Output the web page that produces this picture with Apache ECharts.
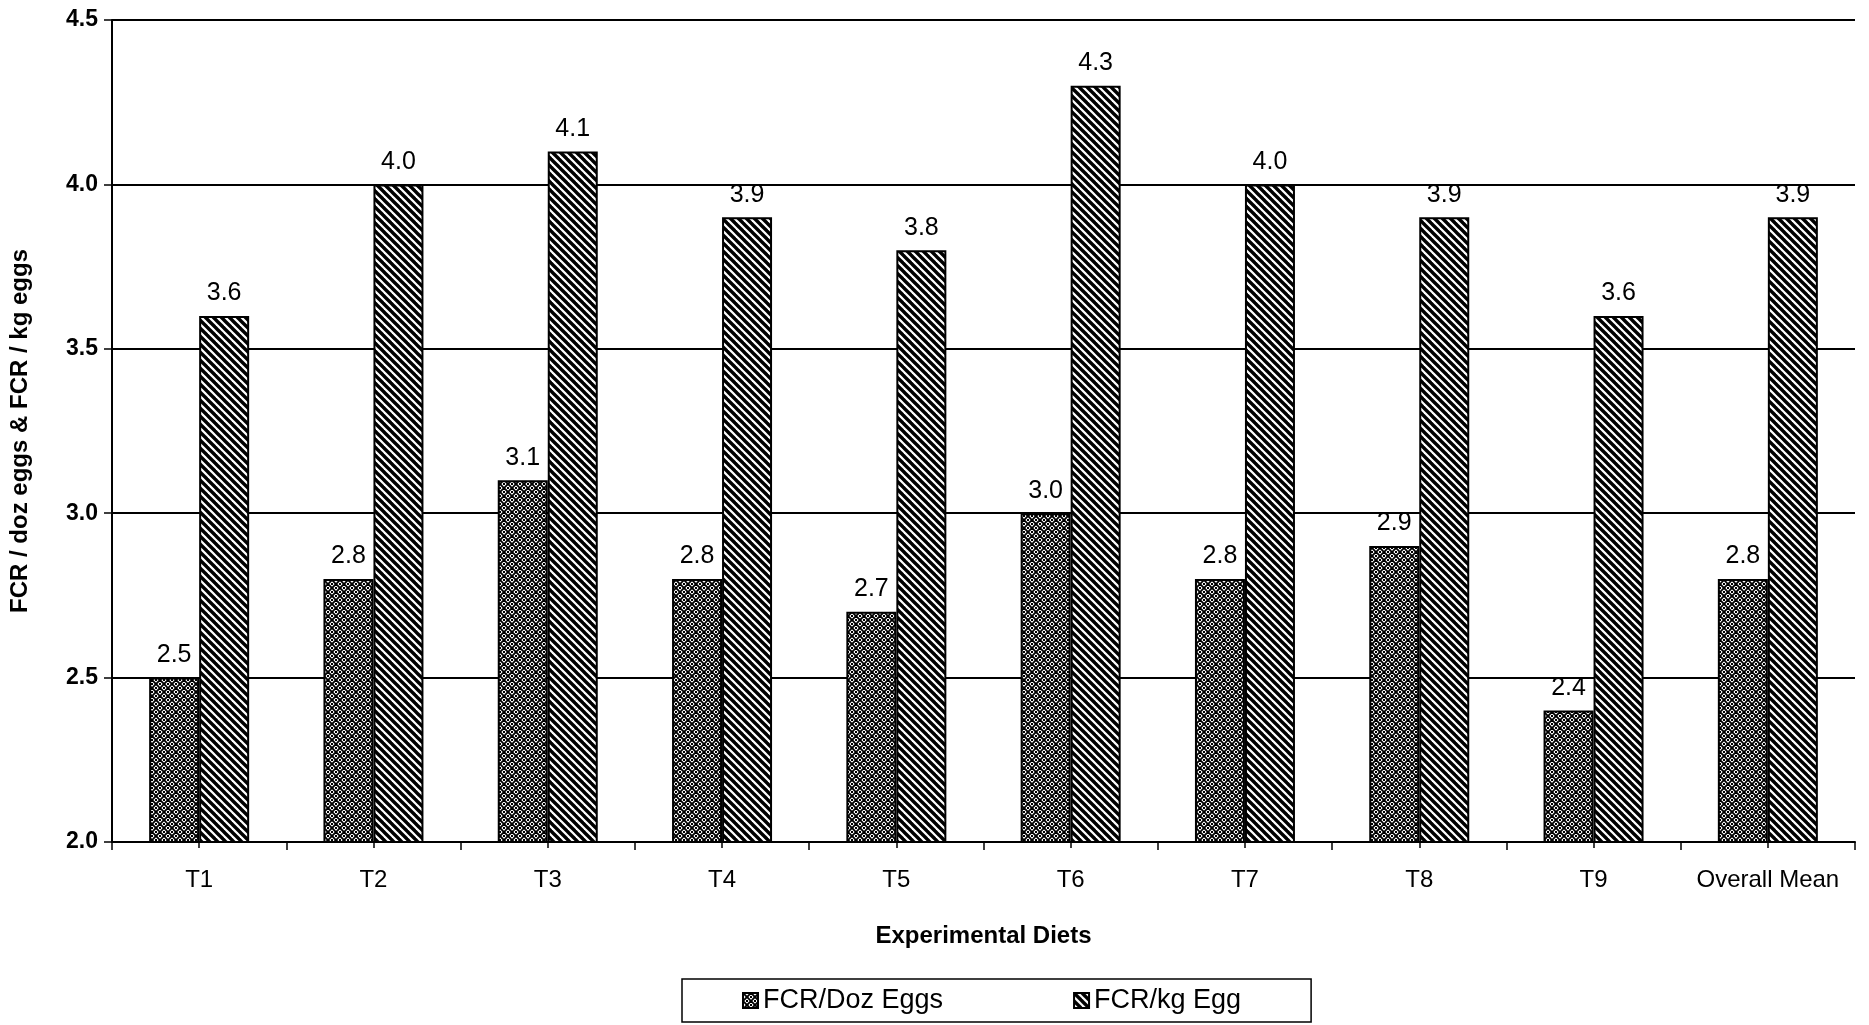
<!DOCTYPE html>
<html>
<head>
<meta charset="utf-8">
<script src="https://cdn.jsdelivr.net/npm/echarts@6/dist/echarts.min.js"></script>
<style>
  html, body { margin: 0; padding: 0; background: #fff; }
  #chart { width: 1869px; height: 1025px; }
</style>
</head>
<body>
<div id="chart"></div>
<script>
// Feed conversion ratio by experimental diet
const diets = ['T1', 'T2', 'T3', 'T4', 'T5', 'T6', 'T7', 'T8', 'T9', 'Overall Mean'];
const fcrPerDozen = [2.5, 2.8, 3.1, 2.8, 2.7, 3.0, 2.8, 2.9, 2.4, 2.8];
const fcrPerKg = [3.6, 4.0, 4.1, 3.9, 3.8, 4.3, 4.0, 3.9, 3.6, 3.9];
const seriesNames = ['FCR/Doz Eggs', 'FCR/kg Egg'];

const FONT = '"Liberation Sans", Arial, sans-serif';

// Black-and-white fill patterns for the bars
function diagonalPattern() {
  const c = document.createElement('canvas');
  c.width = 8; c.height = 8;
  const g = c.getContext('2d');
  g.fillStyle = '#fff';
  g.fillRect(0, 0, 8, 8);
  g.strokeStyle = '#000';
  g.lineWidth = 3.4;
  for (let k = -1; k <= 1; k++) {
    g.beginPath();
    g.moveTo(-2, -2 + 8 * k);
    g.lineTo(10, 10 + 8 * k);
    g.stroke();
  }
  return c;
}

function crossPattern() {
  const c = document.createElement('canvas');
  c.width = 8; c.height = 8;
  const g = c.getContext('2d');
  g.fillStyle = '#fff';
  g.fillRect(0, 0, 8, 8);
  g.strokeStyle = '#000';
  g.lineWidth = 1.9;
  for (let k = -1; k <= 1; k++) {
    g.beginPath();
    g.moveTo(-2, -2 + 8 * k);
    g.lineTo(10, 10 + 8 * k);
    g.stroke();
    g.beginPath();
    g.moveTo(-2, 10 + 8 * k);
    g.lineTo(10, -2 + 8 * k);
    g.stroke();
  }
  g.fillStyle = '#000';
  g.fillRect(3, 0, 2, 1);
  g.fillRect(0, 3, 1, 2);
  g.fillRect(7, 3, 1, 2);
  g.fillRect(3, 7, 2, 1);
  return c;
}

const crossFill = { image: crossPattern(), repeat: 'repeat' };
const diagFill = { image: diagonalPattern(), repeat: 'repeat' };

const valueLabel = {
  show: true,
  position: 'top',
  distance: 10,
  color: '#000',
  fontFamily: FONT,
  fontSize: 25,
  formatter: p => p.value.toFixed(1)
};

const chart = echarts.init(document.getElementById('chart'), null, { renderer: 'canvas' });

chart.setOption({
  backgroundColor: '#fff',
  animation: false,
  textStyle: { fontFamily: FONT, color: '#000' },
  grid: { left: 108, right: 14, top: 20, bottom: 183 },
  legend: {
    data: seriesNames,
    icon: 'rect',
    left: 682,
    top: 979,
    orient: 'horizontal',
    padding: [8, 70, 8, 60],
    itemGap: 130,
    itemWidth: 15,
    itemHeight: 15,
    borderColor: '#000',
    borderWidth: 1.5,
    textStyle: { fontFamily: FONT, fontSize: 27, color: '#000' }
  },
  xAxis: [
    {
      type: 'category',
      data: diets,
      boundaryGap: true,
      name: 'Experimental Diets',
      nameLocation: 'middle',
      nameGap: 82,
      nameTextStyle: { fontFamily: FONT, fontSize: 24, fontWeight: 'bold', color: '#000' },
      axisLine: { show: true, lineStyle: { color: '#000', width: 2 } },
      axisTick: { show: true, alignWithLabel: true, interval: 0, length: 6, lineStyle: { color: '#000', width: 1.5 } },
      axisLabel: { interval: 0, margin: 26, fontFamily: FONT, fontSize: 24, color: '#000' },
      splitLine: { show: false }
    },
    {
      // boundary ticks between categories
      type: 'category',
      data: diets,
      boundaryGap: true,
      position: 'bottom',
      axisLine: { show: false },
      axisTick: { show: true, interval: 0, length: 8, lineStyle: { color: '#000', width: 1.5 } },
      axisLabel: { show: false },
      splitLine: { show: false }
    }
  ],
  yAxis: {
    type: 'value',
    min: 2.0,
    max: 4.5,
    interval: 0.5,
    name: 'FCR / doz eggs & FCR / kg eggs',
    nameLocation: 'middle',
    nameGap: 80,
    nameRotate: 90,
    nameTextStyle: { fontFamily: FONT, fontSize: 24, fontWeight: 'bold', color: '#000' },
    axisLine: { show: true, lineStyle: { color: '#000', width: 2 } },
    axisTick: { show: true, length: 8, lineStyle: { color: '#000', width: 1.5 } },
    axisLabel: {
      margin: 14,
      fontFamily: FONT,
      fontSize: 23,
      fontWeight: 'bold',
      color: '#000',
      formatter: v => v.toFixed(1)
    },
    splitLine: { show: true, lineStyle: { color: '#000', width: 2 } }
  },
  series: [
    {
      name: seriesNames[0],
      type: 'bar',
      xAxisIndex: 0,
      data: fcrPerDozen,
      barWidth: 50,
      barGap: '0%',
      itemStyle: { color: crossFill, borderColor: '#000', borderWidth: 2 },
      label: valueLabel
    },
    {
      name: seriesNames[1],
      type: 'bar',
      xAxisIndex: 0,
      data: fcrPerKg,
      barWidth: 50,
      barGap: '0%',
      itemStyle: { color: diagFill, borderColor: '#000', borderWidth: 2 },
      label: valueLabel
    }
  ]
});
</script>
</body>
</html>
